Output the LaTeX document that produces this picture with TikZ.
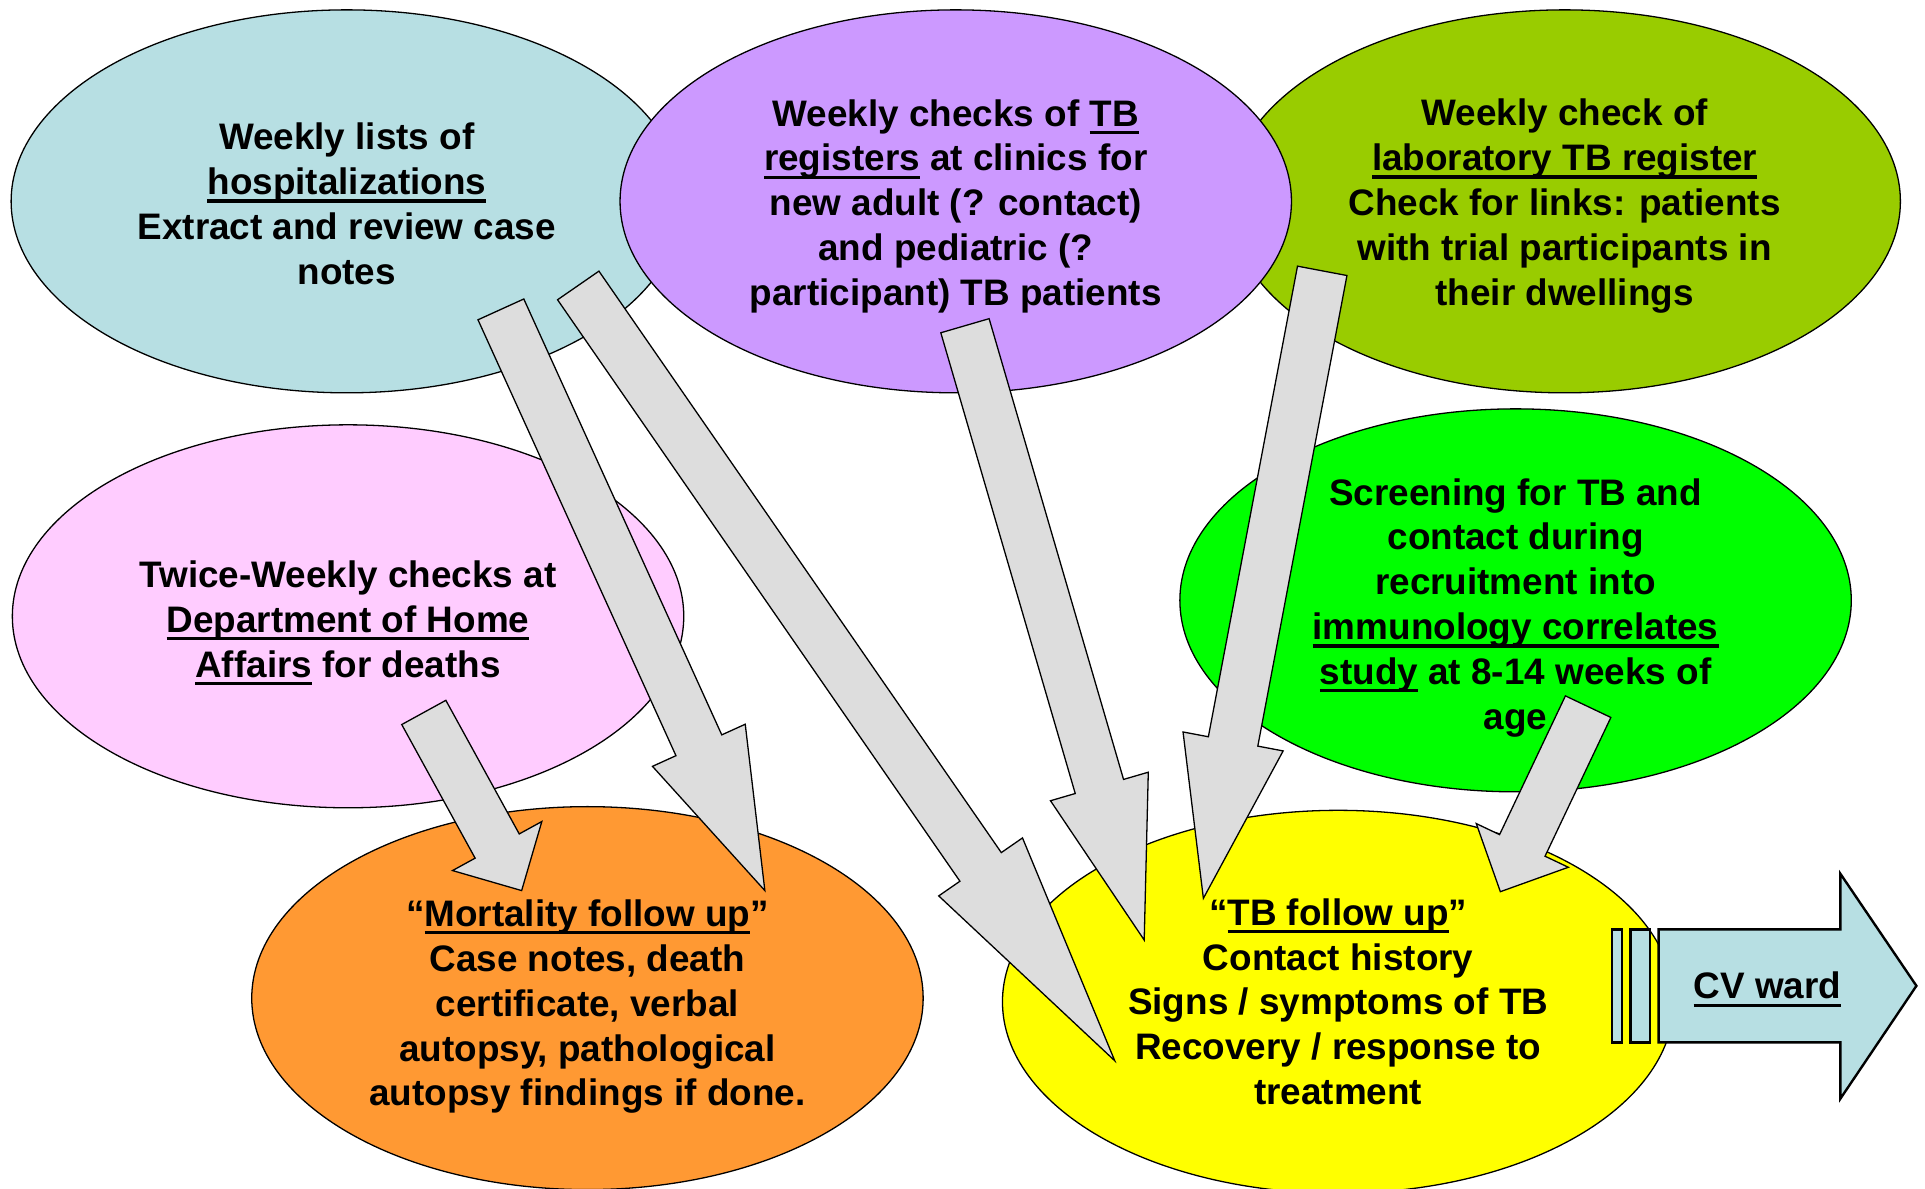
\documentclass[tikz,border=0pt]{standalone}
\usepackage{fontspec}
\setmainfont{Liberation Sans}
\usetikzlibrary{shapes.geometric,calc}

\definecolor{hospblue}{HTML}{B7DFE3}
\definecolor{clinicpurple}{HTML}{CC99FF}
\definecolor{labolive}{HTML}{99CC00}
\definecolor{affairspink}{HTML}{FFCCFF}
\definecolor{screengreen}{HTML}{00FF00}
\definecolor{deathorange}{HTML}{FF9933}
\definecolor{tbyellow}{HTML}{FFFF00}
\definecolor{arrowgray}{HTML}{DDDDDD}

\newcommand\ulword[1]{\leavevmode\setbox0\hbox{#1}\rlap{\rule[-0.13cm]{\wd0}{0.055cm}}\box0\relax}

\newcommand\blockarrow[2]{%
    \coordinate (#1-h) at ($(#1)!0.75!(#2)$);
    \draw[fatarrow] ($(#1)!0.41cm!90:(#2)$) -- ($(#1-h)!0.41cm!90:(#2)$)
        -- ($(#1-h)!0.83cm!90:(#2)$) -- (#2) -- ($(#1-h)!0.83cm!-90:(#2)$)
        -- ($(#1-h)!0.41cm!-90:(#2)$) -- ($(#1)!0.41cm!-90:(#2)$) -- cycle;
}

\tikzset{
    bubble/.style={ellipse, draw, line width=0.6pt, minimum width=10.94cm,
        minimum height=6.24cm, inner sep=0pt},
    bubbletext/.style={align=center, inner sep=0pt,
        font=\fontsize{17.1pt}{20.8pt}\selectfont\bfseries},
    fatarrow/.style={draw, fill=arrowgray, line width=0.6pt, line join=miter},
    cvarrow/.style={draw, fill=hospblue, line width=1.1pt},
}

\begin{document}
\begin{tikzpicture}[x=0.02cm, y=-0.02cm]
    \useasboundingbox (0,0) rectangle (1568,968);

    \node[bubble, fill=hospblue] (hosp) at (282.5,164) {};
    \node[bubble, fill=labolive] (lab) at (1274.5,164) {};
    \node[bubble, fill=clinicpurple] (clinic) at (778.5,164) {};
    \node[bubble, fill=affairspink] (affairs) at (283.5,502) {};
    \node[bubble, fill=screengreen] (screen) at (1234.5,489) {};
    \node[bubble, fill=deathorange] (mortality) at (478.5,813) {};
    \node[bubble, fill=tbyellow] (tbfollow) at (1090,816) {};

    \node[bubbletext] (hosp-text) at ($(hosp)+(0,2)$)
        {Weekly lists of\\ \ulword{hospitalizations}\\ Extract and review case\\ notes};
    \node[bubbletext] (lab-text) at ($(lab)+(0,4)$)
        {Weekly check of\\ \ulword{laboratory TB register}\\ Check for links: patients\\
         with trial participants in\\ their dwellings};
    \node[bubbletext] (clinic-text) at ($(clinic)+(0,4)$)
        {Weekly checks of \ulword{TB}\\ \ulword{registers} at clinics for\\ new adult (? contact)\\
         and pediatric (?\\ participant) TB patients};
    \node[bubbletext] (affairs-text) at ($(affairs)+(0,5.5)$)
        {Twice-Weekly checks at\\ \ulword{Department of Home}\\ \ulword{Affairs} for deaths};
    \node[bubbletext] (screen-text) at ($(screen)+(0,6)$)
        {Screening for TB and\\ contact during\\ recruitment into\\ \ulword{immunology correlates}\\
         \ulword{study} at 8-14 weeks of\\ age};
    \node[bubbletext] (mortality-text) at ($(mortality)+(0,7)$)
        {“\ulword{Mortality follow up}”\\ Case notes, death\\ certificate, verbal\\
         autopsy, pathological\\ autopsy findings if done.};
    \node[bubbletext] (tbfollow-text) at (tbfollow)
        {“\ulword{TB follow up}”\\ Contact history\\ Signs / symptoms of TB\\
         Recovery / response to\\ treatment};

    \coordinate (hosp-a) at (408,252);
    \coordinate (hosp-b) at (471,232.5);
    \coordinate (clinic-a) at (786,265.3);
    \coordinate (lab-a) at (1077,220.6);
    \coordinate (screen-a) at (1293.6,575.6);
    \coordinate (affairs-a) at (345.2,580.3);
    \coordinate (mortality-in) at (623,725.4);
    \coordinate (mortality-in2) at (424.9,725.4);
    \coordinate (tbfollow-in1) at (908,864);
    \coordinate (tbfollow-in2) at (932,765.7);
    \coordinate (tbfollow-in3) at (980.2,731.7);
    \coordinate (tbfollow-in4) at (1222.1,726.3);

    \blockarrow{hosp-a}{mortality-in}
    \blockarrow{hosp-b}{tbfollow-in1}
    \blockarrow{clinic-a}{tbfollow-in2}
    \blockarrow{lab-a}{tbfollow-in3}
    \blockarrow{screen-a}{tbfollow-in4}
    \blockarrow{affairs-a}{mortality-in2}

    \draw[cvarrow] (1313,757) rectangle (1321,849);
    \draw[cvarrow] (1328,757) rectangle (1344,849);
    \draw[cvarrow] (1351,757) -- (1499,757) -- (1499,711.6) -- (1561,803)
        -- (1499,895) -- (1499,849) -- (1351,849) -- cycle;
    \node[bubbletext] (cvward) at (1439.6,806) {\ulword{CV ward}};
\end{tikzpicture}
\end{document}
